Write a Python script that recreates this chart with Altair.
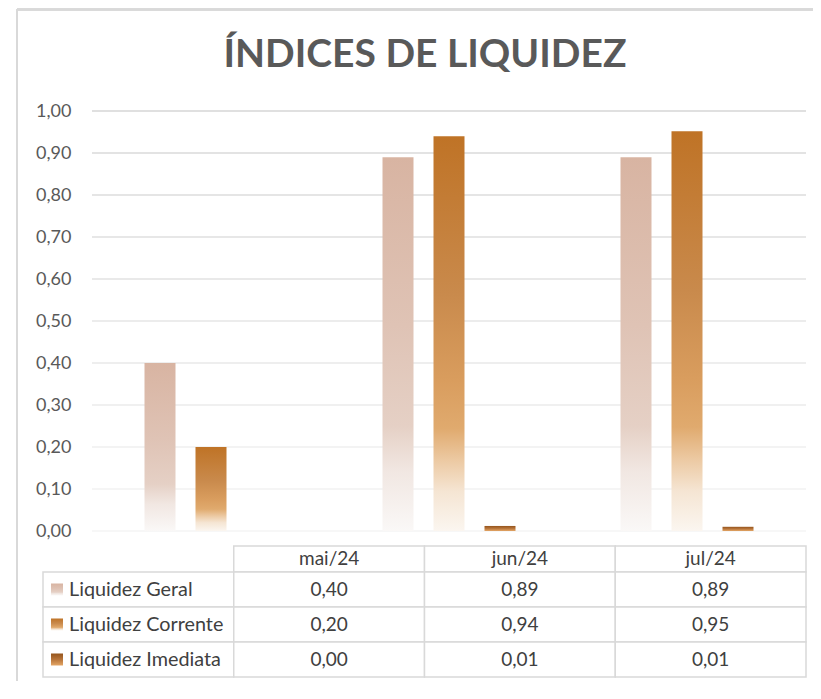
import altair as alt
import pandas as pd

# ---------------- data ----------------
TITLE = "ÍNDICES DE LIQUIDEZ"
MONTHS = ["mai/24", "jun/24", "jul/24"]
SERIES = ["Liquidez Geral", "Liquidez Corrente", "Liquidez Imediata"]
GERAL = [0.40, 0.89, 0.89]
CORRENTE = [0.20, 0.94, 0.952]
IMEDIATA = [0.00, 0.012, 0.010]
Y_TICKS = [0.0, 0.1, 0.2, 0.3, 0.4, 0.5, 0.6, 0.7, 0.8, 0.9, 1.0]
LABEL_COL = "serie"
TABLE_COLS = [LABEL_COL] + MONTHS

VALUES = {"Liquidez Geral": GERAL, "Liquidez Corrente": CORRENTE, "Liquidez Imediata": IMEDIATA}

rows = []
for s in SERIES:
    for m, v in zip(MONTHS, VALUES[s]):
        rows.append({"month": m, "series": s, "value": v,
                     "label": f"{v:.2f}".replace(".", ",")})
df = pd.DataFrame(rows)
grid_df = pd.DataFrame({"tick": Y_TICKS})

# ---------------- styles ----------------
FONT = "Lato"
GRADIENTS = {
    "Liquidez Geral": [("#d8b4a2", 0), ("#dfc3b5", 0.45), ("#e5d0c5", 0.72),
                       ("#f1e7e2", 0.84), ("#faf8f7", 1)],
    "Liquidez Corrente": [("#bf7326", 0), ("#c98a4c", 0.4), ("#d99d5e", 0.62),
                          ("#e0aa6e", 0.74), ("#ecc9a2", 0.82), ("#f5e5d3", 0.9),
                          ("#fbf6f0", 1)],
    "Liquidez Imediata": [("#94541c", 0), ("#b8753a", 0.5), ("#e4a666", 1)],
}


def grad(series):
    return alt.Gradient(
        gradient="linear", x1=0, x2=0, y1=0, y2=1,
        stops=[alt.GradientStop(color=c, offset=o) for c, o in GRADIENTS[series]],
    )


# ---------------- plot area ----------------
y_axis = alt.Axis(
    values=Y_TICKS,
    labelExpr="replace(format(datum.value, '.2f'), '.', ',')",
    grid=False, domain=False, ticks=False, labelPadding=21,
    labelFont=FONT, labelFontSize=18, labelColor="#595959", title=None,
    labelOverlap=False,
)
x_enc = alt.X("month:N", scale=alt.Scale(domain=MONTHS, paddingInner=0.0126, paddingOuter=0.0063), axis=None)
xo_enc = alt.XOffset("series:N", scale=alt.Scale(domain=SERIES, paddingInner=0.392, paddingOuter=1))
y_scale = alt.Scale(domain=[0, 1], nice=False, zero=True)

grid = alt.Chart(grid_df).mark_rule(strokeWidth=1.2).encode(
    y=alt.Y("tick:Q", scale=y_scale, axis=y_axis),
    color=alt.Color("tick:Q", scale=alt.Scale(domain=[0, 1], range=["#f0f0f0", "#c2c2c2"]), legend=None),
)

bars = []
for s in SERIES:
    bars.append(
        alt.Chart(df).transform_filter(alt.datum.series == s)
        .mark_bar(color=grad(s), strokeWidth=0)
        .encode(x=x_enc, xOffset=xo_enc, y=alt.Y("value:Q", scale=y_scale, axis=y_axis))
    )

plot = alt.layer(grid, *bars)

# ---------------- data table ----------------
hx_scale = alt.Scale(domain=TABLE_COLS, range=[-49, 714], paddingInner=0, paddingOuter=0)
hx = alt.X("col:N", scale=hx_scale, axis=None)
hdr_df = pd.DataFrame({"col": MONTHS, "row": ["hdr"] * len(MONTHS)})
hy = alt.Y("row:N", scale=alt.Scale(domain=["hdr"], range=[435, 461], paddingInner=0, paddingOuter=0), axis=None)
hdr = alt.layer(
    alt.Chart(hdr_df).mark_rect(fill="white", stroke="#d9d9d9", strokeWidth=1.5).encode(x=hx, y=hy),
    alt.Chart(hdr_df).mark_text(font=FONT, fontSize=19, color="#404040", baseline="middle").encode(
        x=hx, y=hy, text="col:N"),
)

cell_rows = []
for s in SERIES:
    cell_rows.append({"col": LABEL_COL, "row": s, "text": s})
    for m, v in zip(MONTHS, VALUES[s]):
        cell_rows.append({"col": m, "row": s, "text": f"{v:.2f}".replace(".", ",")})
cells = pd.DataFrame(cell_rows)
by = alt.Y("row:N", scale=alt.Scale(domain=SERIES, range=[461, 566], paddingInner=0, paddingOuter=0), axis=None)

body_layers = [
    alt.Chart(cells).mark_rect(fill="white", stroke="#d9d9d9", strokeWidth=1.5).encode(x=hx, y=by),
    alt.Chart(cells).transform_filter(alt.datum.col != LABEL_COL)
    .mark_text(font=FONT, fontSize=19, color="#404040", baseline="middle")
    .encode(x=hx, y=by, text="text:N"),
    alt.Chart(cells).transform_filter(alt.datum.col == LABEL_COL)
    .mark_text(font=FONT, fontSize=19.8, color="#404040", baseline="middle", align="left", dx=26)
    .encode(x=alt.X("col:N", scale=hx_scale, axis=None, bandPosition=0), y=by, text="text:N"),
]
for s in SERIES:
    body_layers.append(
        alt.Chart(cells).transform_filter((alt.datum.col == LABEL_COL) & (alt.datum.row == s))
        .mark_square(fill=grad(s), size=144, opacity=1, xOffset=14, strokeWidth=0)
        .encode(x=alt.X("col:N", scale=hx_scale, axis=None, bandPosition=0), y=by)
    )
body = alt.layer(*body_layers)

# ---------------- chart frame ----------------
frame_left = alt.Chart(grid_df).mark_rule(color="#d9d9d9", strokeWidth=2).encode(
    x=alt.value(-75), y=alt.value(-101.5), y2=alt.value(600))
frame_top = alt.Chart(grid_df).mark_rule(color="#d9d9d9", strokeWidth=2).encode(
    x=alt.value(-75), x2=alt.value(730), y=alt.value(-101.5))

chart = (
    alt.layer(plot, hdr, body, frame_left, frame_top)
    .resolve_scale(x="independent", y="independent")
    .properties(
        width=714, height=420,
        autosize=alt.AutoSizeParams(type="none"),
        padding={"left": 84, "top": 103, "right": 7, "bottom": 150},
        title=alt.TitleParams(
            TITLE, font=FONT, fontSize=39, fontWeight="bold", color="#595959",
            anchor="middle", frame="group", dx=-24, baseline="alphabetic", offset=-97.5,
        ),
    )
    .configure(background="white")
    .configure_view(strokeWidth=0, stroke="transparent")
)

chart.save("out.html", embed_options={"renderer": "svg", "actions": False})
